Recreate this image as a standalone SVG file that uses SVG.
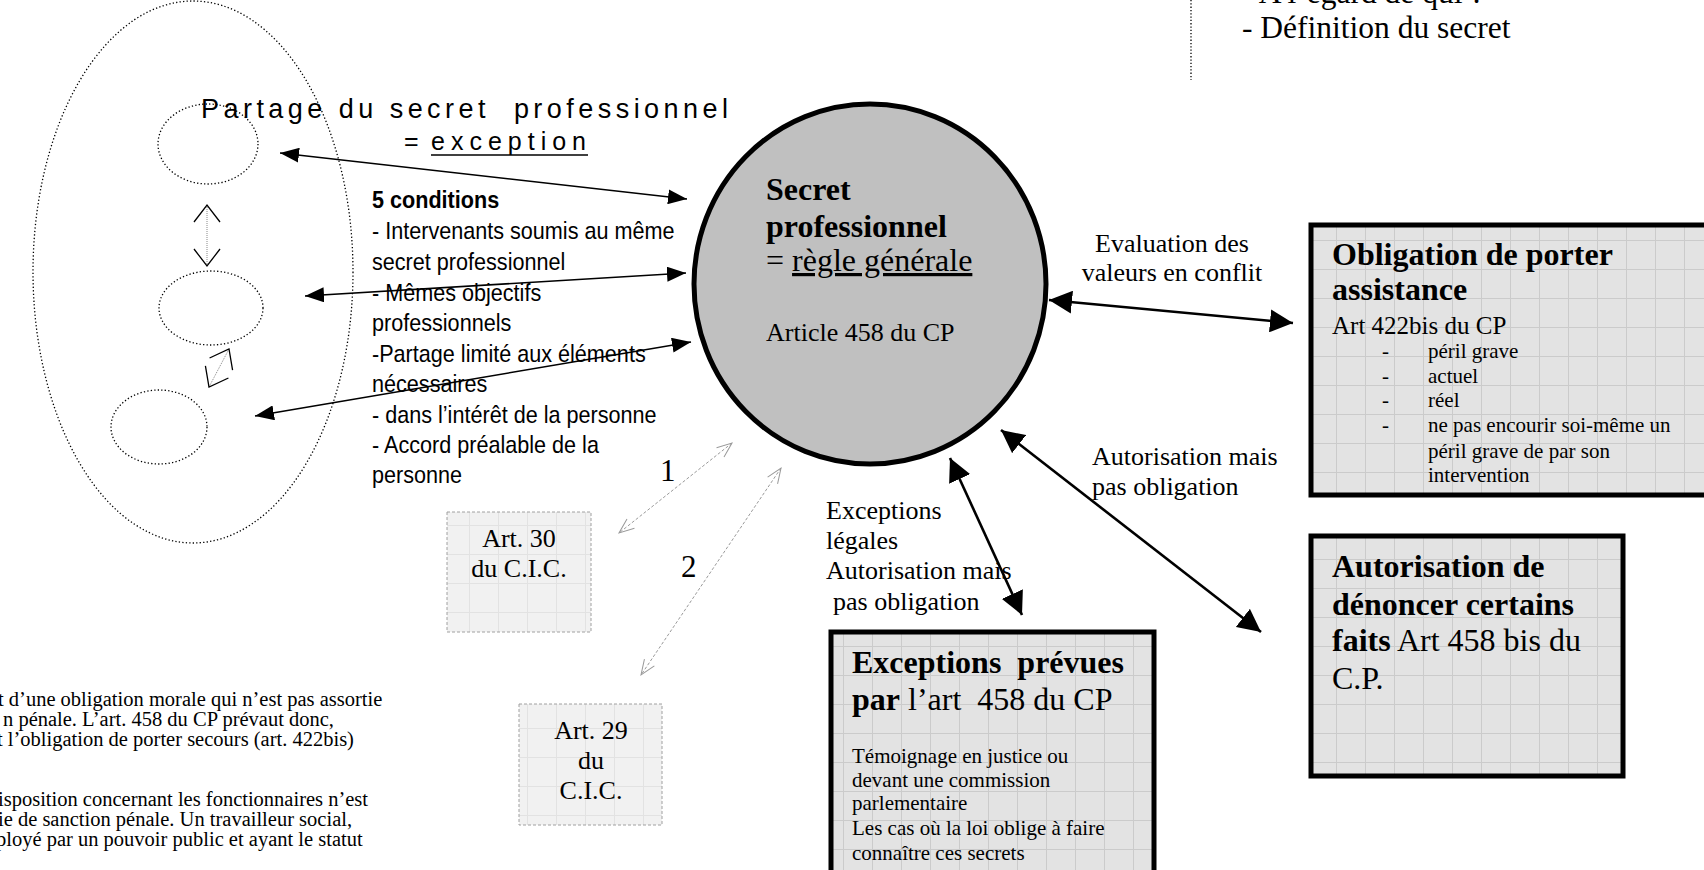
<svg xmlns="http://www.w3.org/2000/svg" width="1704" height="870" viewBox="0 0 1704 870">
<style>
.sans{font-family:"Liberation Sans",Arial,sans-serif;fill:#000}
.serif{font-family:"Liberation Serif","Times New Roman",serif;fill:#000}
.b{font-weight:bold}
.dot{fill:none;stroke:#000;stroke-width:1.3;stroke-dasharray:1.3 2.2}
.thin{stroke:#000;stroke-width:1.5;fill:none;marker-start:url(#ah);marker-end:url(#ah)}
.thick{stroke:#000;stroke-width:2.6;fill:none;marker-start:url(#ahb);marker-end:url(#ahb)}
.gray{stroke:#9a9a9a;stroke-width:1;stroke-dasharray:3 2;fill:none;marker-start:url(#ahg);marker-end:url(#ahg)}
.small{stroke:#888;stroke-width:1;stroke-dasharray:1 1;fill:none;marker-start:url(#aho);marker-end:url(#aho)}
.box{fill:url(#grid);stroke:#000;stroke-width:5}
.abox{fill:url(#grid2);stroke:#a0a0a0;stroke-width:1;stroke-dasharray:3 2}
</style>
<defs>
<pattern id="grid" width="29" height="29" patternUnits="userSpaceOnUse" patternTransform="translate(2 8)">
<rect width="29" height="29" fill="#e3e3e3"/>
<path d="M0 0.5H29M0.5 0V29" stroke="#cbcbcb" stroke-width="1"/>
</pattern>
<pattern id="grid2" width="29" height="29" patternUnits="userSpaceOnUse" patternTransform="translate(5 3)">
<rect width="29" height="29" fill="#f1f1f1"/>
<path d="M0 0.5H29M0.5 0V29" stroke="#e2e2e2" stroke-width="1"/>
</pattern>
<marker id="ah" viewBox="0 0 19 15" refX="19" refY="7.5" markerWidth="19" markerHeight="15" markerUnits="userSpaceOnUse" orient="auto-start-reverse"><path d="M0 0L19 7.5L0 15z" fill="#000"/></marker>
<marker id="ahb" viewBox="0 0 23 23" refX="23" refY="11.5" markerWidth="23" markerHeight="23" markerUnits="userSpaceOnUse" orient="auto-start-reverse"><path d="M0 0L23 11.5L0 23z" fill="#000"/></marker>
<marker id="ahg" viewBox="-1 -1 18 14" refX="15" refY="6" markerWidth="18" markerHeight="14" markerUnits="userSpaceOnUse" orient="auto-start-reverse"><path d="M0 0L15 6L0 12" fill="none" stroke="#999" stroke-width="1"/></marker>
<marker id="aho" viewBox="-1 -1 20 28" refX="17" refY="13" markerWidth="20" markerHeight="28" markerUnits="userSpaceOnUse" orient="auto-start-reverse"><path d="M0 0L17 13L0 26" fill="none" stroke="#000" stroke-width="1.3"/></marker>
</defs>
<rect width="1704" height="870" fill="#fff"/>

<g id="partage-group">
<ellipse class="dot" cx="193" cy="272" rx="160" ry="271"/>
<text class="sans" x="201" y="118" font-size="27" textLength="527" lengthAdjust="spacing" xml:space="preserve">Partage du secret  professionnel</text>
<text class="sans" x="404" y="150" font-size="25">=</text>
<text class="sans" x="431" y="150" font-size="25" textLength="155" lengthAdjust="spacing">exception</text>
<line x1="431" y1="155" x2="588" y2="155" stroke="#000" stroke-width="1.5"/>
</g>
<g id="inner1"><ellipse class="dot" cx="208" cy="144" rx="50" ry="40"/></g>
<g id="inner2"><ellipse class="dot" cx="211" cy="308" rx="52" ry="37"/></g>
<g id="inner3"><ellipse class="dot" cx="159" cy="427" rx="48" ry="37"/></g>

<g id="conditions" class="sans" font-size="24" transform="translate(372 0) scale(0.9 1)">
<text x="0" y="208" class="b">5 conditions</text>
<text x="0" y="239">- Intervenants soumis au même</text>
<text x="0" y="270">secret professionnel</text>
<text x="0" y="301">- Mêmes objectifs</text>
<text x="0" y="331">professionnels</text>
<text x="0" y="362">-Partage limité aux éléments</text>
<text x="0" y="392">nécessaires</text>
<text x="0" y="423">- dans l’intérêt de la personne</text>
<text x="0" y="453">- Accord préalable de la</text>
<text x="0" y="483">personne</text>
</g>

<g id="secret">
<ellipse cx="870" cy="284" rx="176" ry="180" fill="#c0c0c0" stroke="#000" stroke-width="5"/>
<text class="serif b" x="766" y="200" font-size="32">Secret</text>
<text class="serif b" x="766" y="237" font-size="32">professionnel</text>
<text class="serif" x="766" y="271" font-size="32">= <tspan text-decoration="underline">règle générale</tspan></text>
<text class="serif" x="766" y="341" font-size="26">Article 458 du CP</text>
</g>

<g id="obligation">
<rect class="box" x="1311" y="225" width="400" height="270"/>
<text class="serif b" x="1332" y="265" font-size="32">Obligation de porter</text>
<text class="serif b" x="1332" y="300" font-size="32">assistance</text>
<text class="serif" x="1332" y="334" font-size="25">Art 422bis du CP</text>
<g class="serif" font-size="21">
<text x="1382" y="358">-</text><text x="1428" y="358">péril grave</text>
<text x="1382" y="383">-</text><text x="1428" y="383">actuel</text>
<text x="1382" y="407">-</text><text x="1428" y="407">réel</text>
<text x="1382" y="432">-</text><text x="1428" y="432">ne pas encourir soi-même un</text>
<text x="1428" y="458">péril grave de par son</text>
<text x="1428" y="482">intervention</text>
</g>
</g>

<g id="denoncer">
<rect class="box" x="1311" y="536" width="312" height="240"/>
<text class="serif b" x="1332" y="577" font-size="32">Autorisation de</text>
<text class="serif b" x="1332" y="615" font-size="32">dénoncer certains</text>
<text class="serif" x="1332" y="651" font-size="32"><tspan font-weight="bold">faits</tspan> Art 458 bis du</text>
<text class="serif" x="1332" y="689" font-size="32">C.P.</text>
</g>

<g id="exceptions">
<rect class="box" x="831" y="632" width="323" height="260"/>
<text class="serif b" x="852" y="673" font-size="32" xml:space="preserve">Exceptions  prévues</text>
<text class="serif" x="852" y="710" font-size="32" xml:space="preserve"><tspan font-weight="bold">par</tspan> l’art  458 du CP</text>
<g class="serif" font-size="21">
<text x="852" y="763">Témoignage en justice ou</text>
<text x="852" y="787">devant une commission</text>
<text x="852" y="810">parlementaire</text>
<text x="852" y="835">Les cas où la loi oblige à faire</text>
<text x="852" y="860">connaître ces secrets</text>
</g>
</g>

<g id="art30">
<rect class="abox" x="447" y="512" width="144" height="120"/>
<text class="serif" x="519" y="547" font-size="26" text-anchor="middle">Art. 30</text>
<text class="serif" x="519" y="577" font-size="26" text-anchor="middle">du C.I.C.</text>
</g>

<g id="art29">
<rect class="abox" x="519" y="704" width="143" height="121"/>
<text class="serif" x="591" y="739" font-size="26" text-anchor="middle">Art. 29</text>
<text class="serif" x="591" y="769" font-size="26" text-anchor="middle">du</text>
<text class="serif" x="591" y="799" font-size="26" text-anchor="middle">C.I.C.</text>
</g>

<g id="note" class="serif" font-size="20.5">
<text x="-2" y="706">t d’une obligation morale qui n’est pas assortie</text>
<text x="3" y="726">n pénale. L’art. 458 du CP prévaut donc,</text>
<text x="-3" y="746">t l’obligation de porter secours (art. 422bis)</text>
<text x="-2" y="806">isposition concernant les fonctionnaires n’est</text>
<text x="-2" y="826">ie de sanction pénale. Un travailleur social,</text>
<text x="-4" y="846">ployé par un pouvoir public et ayant le statut</text>
</g>

<g id="topright">
<line x1="1191" y1="0" x2="1191" y2="80" stroke="#000" stroke-width="1.3" stroke-dasharray="1.3 2"/>
<text class="serif" x="1242" y="3" font-size="31.5">- A l’égard de qui ?</text>
<text class="serif" x="1242" y="38" font-size="31.5">- Définition du secret</text>
</g>

<g id="labels" class="serif" font-size="26">
<text x="1172" y="252" text-anchor="middle">Evaluation des</text>
<text x="1172" y="281" text-anchor="middle">valeurs en conflit</text>
<text x="1092" y="465">Autorisation mais</text>
<text x="1092" y="495">pas obligation</text>
<text x="826" y="519">Exceptions</text>
<text x="826" y="549">légales</text>
<text x="826" y="579">Autorisation mais</text>
<text x="833" y="610">pas obligation</text>
<text x="660" y="481" font-size="31">1</text>
<text x="681" y="577" font-size="31">2</text>
</g>

<g id="connectors">
<line class="thin" x1="280" y1="153" x2="687" y2="199"/>
<line class="thin" x1="305" y1="296" x2="686" y2="273"/>
<line class="thin" x1="255" y1="416" x2="691" y2="342"/>
<line class="thick" x1="1049" y1="300" x2="1293" y2="323" stroke-width="3.5"/>
<line class="thick" x1="950" y1="458" x2="1022" y2="615"/>
<line class="thick" x1="1001" y1="430" x2="1261" y2="632"/>
<line class="gray" x1="732" y1="443" x2="619" y2="533"/>
<line class="gray" x1="781" y1="468" x2="641" y2="675"/>
<line class="small" x1="207" y1="205" x2="207" y2="266"/>
<line class="small" x1="229" y1="349" x2="209" y2="387"/>
</g>
</svg>
